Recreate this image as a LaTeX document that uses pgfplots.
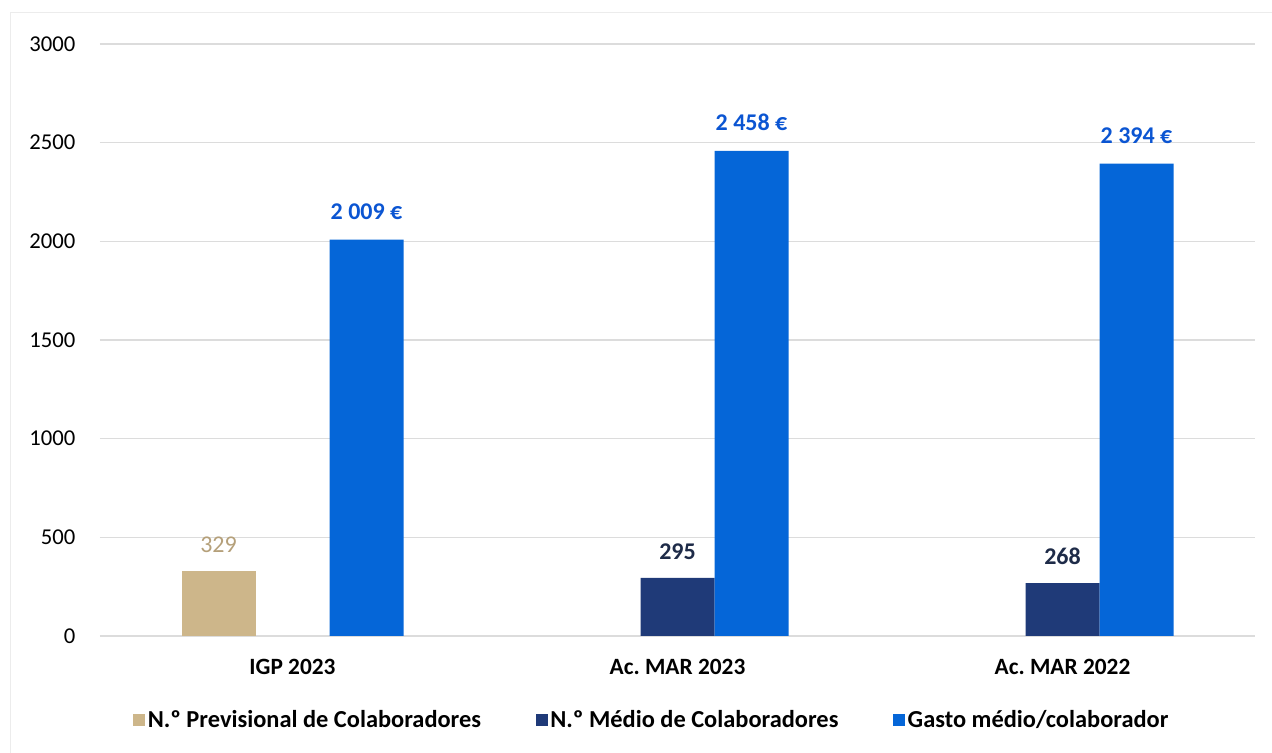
\documentclass[border=0pt]{standalone}
\usepackage{pgfplots}
\pgfplotsset{compat=1.18}
\usepackage{fontspec}
\setmainfont{Carlito}
\definecolor{tanbar}{HTML}{CDB68A}
\definecolor{tanlbl}{HTML}{B5A07A}
\definecolor{navybar}{HTML}{1F3A78}
\definecolor{navylbl}{HTML}{1E2B48}
\definecolor{bluebar}{HTML}{0566D8}
\definecolor{bluelbl}{HTML}{0B55D2}
\definecolor{gridc}{HTML}{DCDCDC}
\definecolor{framec}{HTML}{ECECEC}
\begin{document}
\begin{tikzpicture}
% page = 1272 x 753 px at 0.75pt per px
\path[use as bounding box] (0,0) rectangle (954pt,564.75pt);
\draw[framec, line width=1.2pt] (8pt,0) -- (8pt,555.5pt) -- (954pt,555.5pt);
\begin{axis}[
    at={(75pt,87.75pt)}, anchor=south west,
    scale only axis,
    width=866.25pt, height=444pt,
    font=\fontsize{17}{20}\selectfont,
    /pgf/number format/assume math mode=true,
    /pgf/number format/1000 sep={},
    ybar=0pt,
    bar width=55.5pt,
    xmin=-0.5, xmax=2.5,
    ymin=0, ymax=3000,
    ytick={0,500,...,3000},
    xtick={0,1,2},
    xticklabels={IGP 2023, Ac.\ MAR 2023, Ac.\ MAR 2022},
    xticklabel style={font=\fontsize{17.5}{20}\selectfont\bfseries, yshift=-13.5pt},
    yticklabel style={xshift=-15pt},
    axis line style={draw=none},
    major tick length=0pt,
    ymajorgrids=true,
    grid style={gridc, line width=1.2pt},
    legend columns=-1,
    legend style={draw=none, fill=none, at={(0.478,-0.142)}, anchor=center,
        font=\fontsize{18.3}{20}\selectfont\bfseries,
        /tikz/every even column/.append style={column sep=39pt},
        /tikz/every odd column/.append style={column sep=0pt}},
    legend image code/.code={\fill[#1] (0pt,-4.5pt) rectangle (9pt,4.5pt);},
    nodes near coords,
    every node near coord/.append style={yshift=10pt},
]
\addplot[fill=tanbar, draw=none,
    every node near coord/.append style={text=tanlbl, font=\fontsize{18}{20}\selectfont}]
    coordinates {(0,329)};
\addlegendentry{N.º Previsional de Colaboradores}
\addplot[fill=navybar, draw=none,
    every node near coord/.append style={text=navylbl, font=\fontsize{18}{20}\selectfont\bfseries}]
    coordinates {(1,295) (2,268)};
\addlegendentry{N.º Médio de Colaboradores}
\addplot[fill=bluebar, draw=none,
    nodes near coords={\pgfmathprintnumber[fixed, precision=0, 1000 sep={\ }]{\pgfplotspointmeta}\ €},
    every node near coord/.append style={text=bluelbl, font=\fontsize{18}{20}\selectfont\bfseries, yshift=1.5pt}]
    coordinates {(0,2009) (1,2458) (2,2394)};
\addlegendentry{Gasto médio/colaborador}
\end{axis}
\end{tikzpicture}
\end{document}
